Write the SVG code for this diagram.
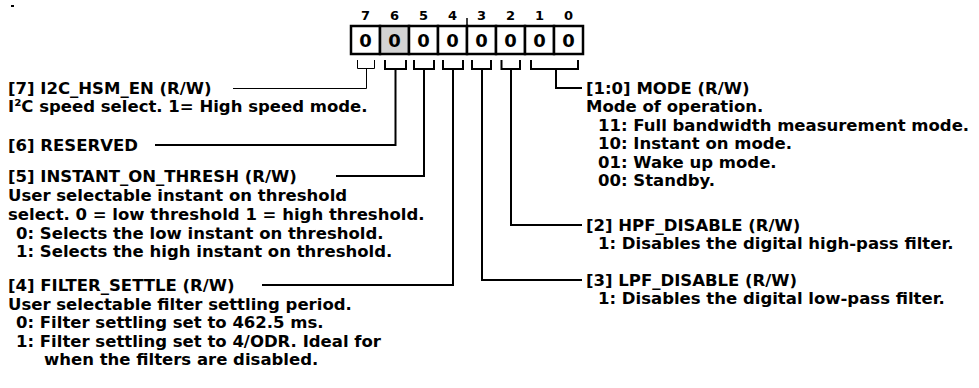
<svg xmlns="http://www.w3.org/2000/svg" width="979" height="388" viewBox="0 0 979 388">
<style>
text{font-family:"DejaVu Sans",Verdana,sans-serif;font-size:16.5px;font-weight:bold;fill:#000}
.bitn{font-size:13px;text-anchor:middle}
.val{font-size:18px;text-anchor:middle}
.cell{fill:#fff;stroke:#000;stroke-width:2.5}
.thick{fill:none;stroke:#000;stroke-width:2}
.thin{fill:none;stroke:#000;stroke-width:1}
</style>
<rect x="11" y="5" width="3" height="2" fill="#000"/>
<g id="register">
<text class="bitn" x="365.5" y="20">7</text>
<text class="bitn" x="394.5" y="20">6</text>
<text class="bitn" x="423.5" y="20">5</text>
<text class="bitn" x="452.5" y="20">4</text>
<text class="bitn" x="481.5" y="20">3</text>
<text class="bitn" x="510.5" y="20">2</text>
<text class="bitn" x="539.5" y="20">1</text>
<text class="bitn" x="568.5" y="20">0</text>
<line x1="467" y1="18" x2="467" y2="26" stroke="#000" stroke-width="1.5"/>
<rect class="cell" x="351" y="26" width="29" height="28"/>
<rect class="cell" x="380" y="26" width="29" height="28" style="fill:#d3d3d3"/>
<rect class="cell" x="409" y="26" width="29" height="28"/>
<rect class="cell" x="438" y="26" width="29" height="28"/>
<rect class="cell" x="467" y="26" width="29" height="28"/>
<rect class="cell" x="496" y="26" width="29" height="28"/>
<rect class="cell" x="525" y="26" width="29" height="28"/>
<rect class="cell" x="554" y="26" width="29" height="28"/>
<text class="val" x="365.5" y="47">0</text>
<text class="val" x="394.5" y="47">0</text>
<text class="val" x="423.5" y="47">0</text>
<text class="val" x="452.5" y="47">0</text>
<text class="val" x="481.5" y="47">0</text>
<text class="val" x="510.5" y="47">0</text>
<text class="val" x="539.5" y="47">0</text>
<text class="val" x="568.5" y="47">0</text>
</g>
<g id="connectors">
<path class="thin" d="M357.5,60 V68.5 H374.5 V60 M366.5,68.5 V88.5 H233"/>
<path class="thick" d="M385,60 V69 H406 V60 M395.5,69 V145 H155"/>
<path class="thick" d="M414,60 V69 H434 V60 M424,69 V176 H336"/>
<path class="thick" d="M443,60 V69 H463 V60 M453,69 V285 H262"/>
<path class="thick" d="M472,60 V69 H491 V60 M482,69 V280 H582"/>
<path class="thick" d="M501.5,60 V69 H520 V60 M511,69 V225 H582"/>
<path class="thick" d="M531,60 V69 H578 V60 M556,69 V88 H582"/>
</g>
<g id="bit7">
<text x="8" y="94">[7] I2C_HSM_EN (R/W)</text>
<text x="8" y="112">I²C speed select. 1= High speed mode.</text>
</g>
<g id="bit6">
<text x="8" y="151">[6] RESERVED</text>
</g>
<g id="bit5">
<text x="8" y="182">[5] INSTANT_ON_THRESH (R/W)</text>
<text x="8" y="201">User selectable instant on threshold</text>
<text x="8" y="220">select. 0 = low threshold 1 = high threshold.</text>
<text x="16" y="239">0:  Selects the low instant on threshold.</text>
<text x="16" y="257">1:  Selects the high instant on threshold.</text>
</g>
<g id="bit4">
<text x="8" y="291">[4] FILTER_SETTLE (R/W)</text>
<text x="8" y="310">User selectable filter settling period.</text>
<text x="16" y="328">0:  Filter settling set to 462.5 ms.</text>
<text x="16" y="347">1:  Filter settling set to 4/ODR. Ideal for</text>
<text x="44" y="365">when the filters are disabled.</text>
</g>
<g id="bit10">
<text x="586" y="94">[1:0] MODE (R/W)</text>
<text x="586" y="112">Mode of operation.</text>
<text x="598" y="131">11: Full bandwidth measurement mode.</text>
<text x="598" y="149">10: Instant on mode.</text>
<text x="598" y="168">01: Wake up mode.</text>
<text x="598" y="186">00: Standby.</text>
</g>
<g id="bit2">
<text x="586" y="231">[2] HPF_DISABLE (R/W)</text>
<text x="598" y="249">1: Disables the digital high-pass filter.</text>
</g>
<g id="bit3">
<text x="586" y="286">[3] LPF_DISABLE (R/W)</text>
<text x="598" y="304">1: Disables the digital low-pass filter.</text>
</g>
</svg>
